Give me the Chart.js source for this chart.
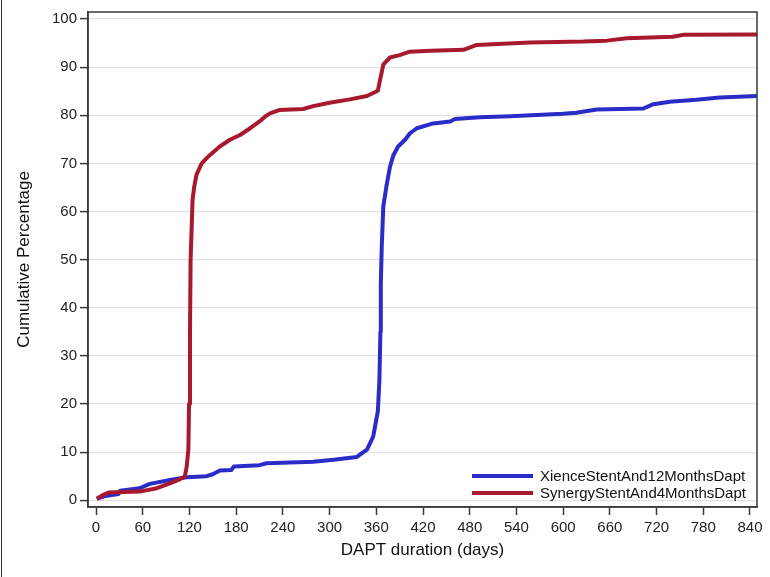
<!DOCTYPE html>
<html>
<head>
<meta charset="utf-8">
<script src="https://cdn.jsdelivr.net/npm/chart.js@4.4.1/dist/chart.umd.min.js"></script>
<style>
  html, body { margin: 0; padding: 0; background: #fff; }
  #wrap { position: relative; width: 770px; height: 577px; }
  #edge { position: absolute; left: 1px; top: 0; width: 1px; height: 577px; background: #333; }
</style>
</head>
<body>
<div id="wrap">
  <canvas id="c" width="770" height="577"></canvas>
  <div id="edge"></div>
</div>
<script>
// ---- Data ----
const seriesLabels = ["XienceStentAnd12MonthsDapt", "SynergyStentAnd4MonthsDapt"];
const xTickValues = [0, 60, 120, 180, 240, 300, 360, 420, 480, 540, 600, 660, 720, 780, 840];
const yTickValues = [0, 10, 20, 30, 40, 50, 60, 70, 80, 90, 100];

const xienceDays = [1, 12, 29, 31, 56, 69, 95, 116, 142, 150, 159, 174, 177, 210, 219, 279, 305, 335, 348, 356, 362, 364, 365.3, 365.8, 367, 369, 373, 377.6, 382, 388, 397, 403, 412, 433, 455, 461, 493, 532, 600, 617, 643, 703, 716, 737, 771, 801, 849];
const xienceValues = [0.3, 0.9, 1.3, 2.0, 2.5, 3.4, 4.2, 4.8, 5.0, 5.4, 6.2, 6.3, 7.0, 7.3, 7.7, 8.0, 8.4, 9.0, 10.5, 13.2, 18.5, 25, 35, 45, 52.7, 61.0, 65.2, 69.3, 71.7, 73.5, 74.9, 76.2, 77.3, 78.3, 78.7, 79.2, 79.6, 79.8, 80.3, 80.5, 81.2, 81.4, 82.3, 82.8, 83.2, 83.7, 84.0];

const synergyDays = [1, 9, 16, 56, 78, 95, 108, 114, 116.5, 118.6, 119.5, 120.7, 121.5, 124, 126, 129, 135.7, 146, 159, 172, 185, 198, 210, 217, 223.5, 236, 266, 279, 300, 326, 348, 362, 364.8, 369, 377.6, 390, 403, 430, 472, 489, 557, 626, 656, 682, 741, 754, 849];
const synergyValues = [0.3, 1.1, 1.6, 1.8, 2.5, 3.5, 4.4, 4.9, 7.0, 10.5, 20, 35, 50, 62.4, 65, 67.6, 70, 71.7, 73.5, 74.9, 75.9, 77.3, 78.7, 79.7, 80.4, 81.1, 81.3, 81.9, 82.6, 83.3, 84.0, 85.1, 87.3, 90.5, 92.0, 92.5, 93.2, 93.4, 93.6, 94.6, 95.1, 95.3, 95.5, 96.0, 96.3, 96.7, 96.8];

const toPoints = (xs, ys) => xs.map((x, i) => ({ x: x, y: ys[i] }));

const BLUE = "#2B2BC8";
const RED = "#A8192E";
const FONT = "'Liberation Sans', Arial, sans-serif";

// Frame around plot area
const framePlugin = {
  id: 'frame',
  afterDatasetsDraw(chart) {
    const { ctx, chartArea: a } = chart;
    ctx.save();
    ctx.strokeStyle = '#3a3a3a';
    ctx.lineWidth = 1.5;
    ctx.strokeRect(a.left, a.top, a.right - a.left, a.bottom - a.top);
    ctx.restore();
  }
};

// Legend inside the plot, bottom right
const insideLegend = {
  id: 'insideLegend',
  afterDraw(chart) {
    const { ctx, chartArea: a } = chart;
    const items = [chart.data.datasets[0], chart.data.datasets[1]];
    ctx.save();
    ctx.font = "15px " + FONT;
    ctx.textBaseline = 'middle';
    ctx.textAlign = 'left';
    const textX = a.left + 452;
    const rows = [a.bottom - 31, a.bottom - 14];
    items.forEach((ds, i) => {
      const y = rows[i];
      ctx.strokeStyle = ds.borderColor;
      ctx.lineWidth = 4;
      ctx.beginPath();
      ctx.moveTo(textX - 68, y);
      ctx.lineTo(textX - 7, y);
      ctx.stroke();
      ctx.fillStyle = '#111';
      ctx.fillText(ds.label, textX, y + 1);
    });
    ctx.restore();
  }
};

new Chart(document.getElementById('c'), {
  type: 'line',
  data: {
    datasets: [
      { label: seriesLabels[0], data: toPoints(xienceDays, xienceValues), borderColor: BLUE, backgroundColor: BLUE, borderWidth: 4, pointRadius: 0, tension: 0, order: 1, borderJoinStyle: 'round' },
      { label: seriesLabels[1], data: toPoints(synergyDays, synergyValues), borderColor: RED, backgroundColor: RED, borderWidth: 4, pointRadius: 0, tension: 0, order: 0, borderJoinStyle: 'round' }
    ]
  },
  options: {
    responsive: false,
    animation: false,
    layout: { padding: { left: 0, top: 12, right: 13, bottom: 0 } },
    plugins: { legend: { display: false }, tooltip: { enabled: false } },
    scales: {
      x: {
        type: 'linear',
        min: -10.3,
        max: 849,
        afterBuildTicks: (s) => { s.ticks = xTickValues.map(v => ({ value: v })); },
        afterFit: (s) => { s.height = 70; },
        grid: { drawOnChartArea: false, drawTicks: true, tickLength: 8, tickWidth: 1.5, tickColor: '#3a3a3a' },
        border: { display: true, color: '#3a3a3a', width: 1.5 },
        ticks: { color: '#222', font: { size: 15, family: FONT }, padding: 4, maxRotation: 0, autoSkip: false },
        title: { display: true, text: 'DAPT duration (days)', color: '#111', font: { size: 17, family: FONT }, padding: { top: 0, bottom: 16 } }
      },
      y: {
        type: 'linear',
        min: -1.4,
        max: 101.45,
        afterBuildTicks: (s) => { s.ticks = yTickValues.map(v => ({ value: v })); },
        afterFit: (s) => { s.width = 88; },
        grid: { drawOnChartArea: true, color: '#e2e2e2', lineWidth: 1.2, drawTicks: true, tickLength: 8, tickWidth: 1.5, tickColor: '#3a3a3a' },
        border: { display: true, color: '#3a3a3a', width: 1.5 },
        ticks: { color: '#222', font: { size: 15, family: FONT }, padding: 3 },
        title: { display: true, text: 'Cumulative Percentage', color: '#111', font: { size: 17, family: FONT }, padding: { top: 14, bottom: 0 } }
      }
    }
  },
  plugins: [framePlugin, insideLegend]
});
</script>
</body>
</html>
